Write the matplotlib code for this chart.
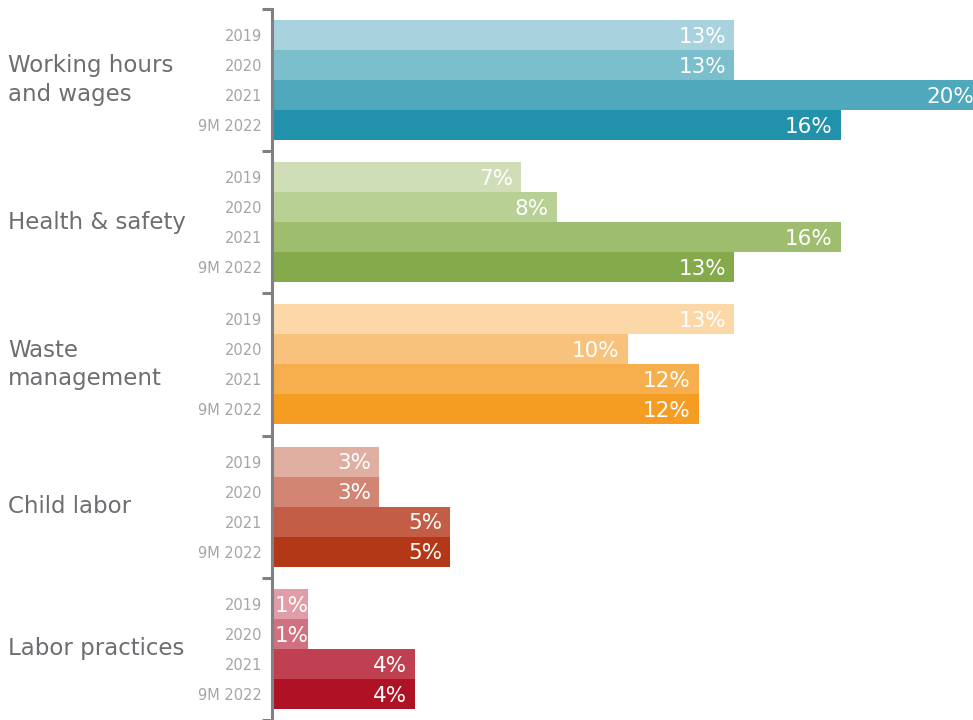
#!/usr/bin/env python3
"""Grouped horizontal bars: share of issues by category, 2019 to 9M 2022."""

import matplotlib

matplotlib.use("Agg")
import matplotlib.pyplot as plt
import matplotlib.transforms as mtransforms

CATEGORIES = ["Working hours\nand wages", "Health & safety", "Waste\nmanagement", "Child labor", "Labor practices"]
PERIODS = ["2019", "2020", "2021", "9M 2022"]

WORKING_HOURS = [13, 13, 20, 16]
HEALTH_SAFETY = [7, 8, 16, 13]
WASTE = [13, 10, 12, 12]
CHILD_LABOR = [3, 3, 5, 5]
LABOR_PRACTICES = [1, 1, 4, 4]

COLORS = [
    ["#A8D3DE", "#7BBFCC", "#4FA8BB", "#2291AB"],
    ["#D0DEB7", "#B8D094", "#9EBD6E", "#84AA4C"],
    ["#FCD7A8", "#F9C27C", "#F7AF4E", "#F59C22"],
    ["#E1AFA2", "#D38573", "#C35D45", "#B23817"],
    ["#E09DA7", "#D07180", "#C04051", "#AF1125"],
]

GAP = 0.742          # space between groups, in bar heights
STRIDE = len(PERIODS) + GAP
AXIS_GRAY = "#808085"

plt.rcParams["font.family"] = ["DejaVu Sans"]

fig = plt.figure(figsize=(9.73, 7.2), dpi=100)
ax = fig.add_axes((273 / 973, 0, 1 - 273 / 973, 1))

series = [WORKING_HOURS, HEALTH_SAFETY, WASTE, CHILD_LABOR, LABOR_PRACTICES]
centers, year_labels = [], []
for g, (values, colors) in enumerate(zip(series, COLORS)):
    for i, (v, c) in enumerate(zip(values, colors)):
        y = g * STRIDE + i + 0.5
        centers.append(y)
        year_labels.append(PERIODS[i])
        ax.barh(y, v, height=1.0, color=c, linewidth=0)
        # short bars: label sits at the bar start instead of its end
        if v < 2:
            xy, off, ha = (0, y), (1.0, -1.2), "left"
        else:
            xy, off, ha = (v, y), (-6, -1.2), "right"
        ax.annotate(f"{v}%", xy, xytext=off, textcoords="offset points",
                    ha=ha, va="center", color="white", fontsize=15.5,
                    annotation_clip=False)

ax.set_xlim(0, 19.72)
ax.set_ylim(len(series) * STRIDE - GAP + 0.367, -0.667)

# year labels as major ticks, group separators as minor ticks
ax.set_yticks(centers, labels=year_labels)
ax.tick_params(axis="y", which="major", length=0, pad=7, labelsize=10.5, labelcolor="#A5A5A8")
bounds = [g * STRIDE - GAP / 2 for g in range(len(series) + 1)]
ax.set_yticks(bounds, minor=True)
ax.tick_params(axis="y", which="minor", length=7, width=2.2, color=AXIS_GRAY, direction="out")
ax.set_xticks([])

for side in ("top", "right", "bottom"):
    ax.spines[side].set_visible(False)
ax.spines["left"].set_color(AXIS_GRAY)
ax.spines["left"].set_linewidth(2.2)
ax.spines["left"].set_bounds(bounds[0], bounds[-1])
ax.spines["left"].set_position(("outward", 1))

trans = mtransforms.blended_transform_factory(fig.transFigure, ax.transData)
for g, name in enumerate(CATEGORIES):
    ax.text(8 / 973, g * STRIDE + 2.0, name, transform=trans, ha="left", va="center",
            fontsize=16.5, color="#6D6E71", linespacing=1.3)

fig.savefig("out.png", dpi=100)
